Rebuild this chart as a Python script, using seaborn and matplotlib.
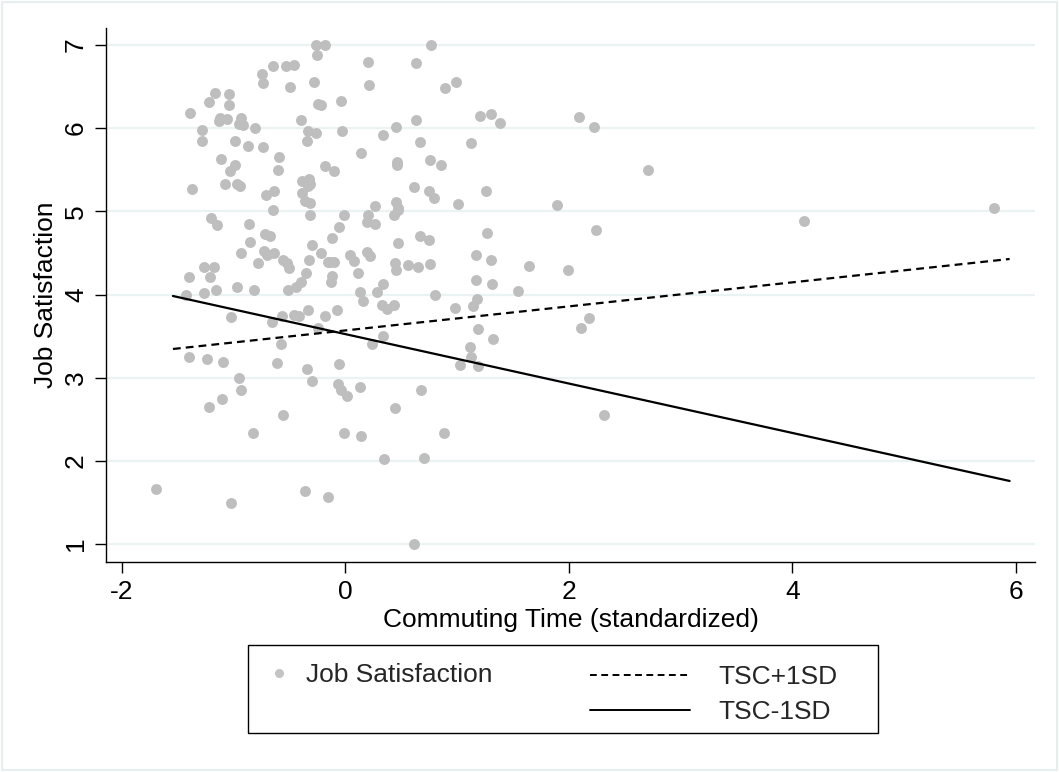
import matplotlib
matplotlib.use("Agg")
import matplotlib.pyplot as plt
from matplotlib.lines import Line2D
from matplotlib.patches import Rectangle
import seaborn as sns
import pandas as pd

# ---- data ----
commute = [
    -0.262, -0.182, -0.257, -0.647, -0.530, -0.465, -0.745, -0.740, -0.498, -0.284,
    -1.165, -1.044, -1.223, -1.044, -0.242, -0.217, -1.393, -1.127, -1.136, -1.062,
    -0.939, -0.957, -0.915, -0.811, -0.402, -0.334, -0.262, -0.343, -1.282, -1.282,
    -0.990, -0.868, -0.742, -1.115, -0.987, -1.035, -0.599, -0.606, -0.179, -1.377,
    -1.082, -0.969, -0.948, -0.391, -0.328, -0.322, -0.331, -0.707, -0.641, -0.391,
    -0.358, -0.322, -0.648,
    0.769, 0.203, 0.635, 0.208, 0.888, 0.990, -0.042, 1.208, 1.300, 1.384,
    0.629, -0.030, 0.334, 0.456, 0.668, 1.127, 0.143, -0.107, 0.459, 0.465,
    0.760, 0.852, 0.611, 0.749, 0.790, 1.261, 0.262, 0.456, 0.471, 1.008,
    -0.316, -1.199, -1.148, -0.865, -0.716, -0.671, -0.850, -0.301, -0.933, -0.731,
    -0.700, -0.638, -0.217, -0.784, -0.555, -0.521, -0.501, -0.328, -0.158, -1.267,
    -1.181, -1.398, -1.210, -0.352, -0.394, -0.441, -0.510, -1.267, -1.160, -0.972,
    -0.823, -1.425, -0.334, -1.022, -0.566, -0.465, -0.418, -0.656, -0.182, -0.575,
    -1.398, -1.237, -1.097, -0.617, -0.343, -0.248,
    -0.012, 0.199, 0.194, 0.262, 0.438, 0.474, -0.060, -0.123, 0.468, 0.671,
    0.751, 1.267, 0.036, 0.080, 0.191, 0.217, -0.137, -0.101, 0.447, 0.450,
    0.557, 0.653, 0.754, 1.169, 1.306, 0.116, -0.123, -0.134, 1.172, 1.315,
    0.334, 0.280, 0.131, 0.161, 0.802, 1.545, 1.178, 1.145, 0.981, 0.325,
    0.373, 0.438, -0.072, 1.190, 1.318, 0.340, 0.233, 1.112, 1.124, 1.187,
    1.029, -0.060,
    -0.954, -0.939, -1.106, -1.223, -0.561, -0.826, -0.301, -1.693, -1.022, -0.360,
    -0.158,
    -0.069, -0.036, 0.015, 0.131, 0.680, 0.441, -0.012, 0.143, 0.886, 0.346,
    0.700, 0.617,
    2.093, 2.224, 2.710, 1.896, 2.245, 4.106, 5.799, 1.640, 1.988, 2.182,
    2.105, 2.314,
]
job_sat = [
    7.00, 7.00, 6.88, 6.75, 6.75, 6.76, 6.65, 6.54, 6.50, 6.55,
    6.42, 6.41, 6.31, 6.28, 6.29, 6.28, 6.18, 6.12, 6.08, 6.11,
    6.12, 6.05, 6.04, 6.00, 6.10, 5.97, 5.94, 5.85, 5.98, 5.85,
    5.85, 5.78, 5.77, 5.63, 5.56, 5.49, 5.65, 5.50, 5.55, 5.27,
    5.33, 5.33, 5.30, 5.37, 5.39, 5.33, 5.30, 5.20, 5.24, 5.22,
    5.12, 5.10, 5.01,
    7.00, 6.79, 6.78, 6.52, 6.48, 6.56, 6.33, 6.15, 6.17, 6.06,
    6.10, 5.97, 5.92, 6.01, 5.83, 5.82, 5.70, 5.49, 5.59, 5.56,
    5.62, 5.56, 5.29, 5.24, 5.16, 5.24, 5.07, 5.11, 5.04, 5.09,
    4.96, 4.92, 4.84, 4.85, 4.73, 4.70, 4.63, 4.60, 4.50, 4.52,
    4.47, 4.50, 4.50, 4.38, 4.42, 4.38, 4.32, 4.41, 4.39, 4.33,
    4.33, 4.21, 4.21, 4.26, 4.15, 4.09, 4.05, 4.02, 4.05, 4.09,
    4.05, 3.99, 3.81, 3.73, 3.74, 3.75, 3.74, 3.67, 3.74, 3.41,
    3.25, 3.22, 3.19, 3.18, 3.11, 3.60,
    4.96, 4.96, 4.87, 4.85, 4.96, 5.02, 4.81, 4.68, 4.62, 4.70,
    4.65, 4.74, 4.48, 4.40, 4.51, 4.46, 4.39, 4.39, 4.38, 4.29,
    4.36, 4.33, 4.37, 4.48, 4.41, 4.26, 4.22, 4.15, 4.18, 4.13,
    4.13, 4.03, 4.03, 3.92, 4.00, 4.04, 3.95, 3.86, 3.84, 3.87,
    3.82, 3.87, 3.81, 3.58, 3.47, 3.50, 3.40, 3.37, 3.25, 3.14,
    3.15, 3.16,
    3.00, 2.85, 2.74, 2.65, 2.55, 2.33, 2.96, 1.66, 1.49, 1.64,
    1.57,
    2.92, 2.85, 2.78, 2.89, 2.85, 2.64, 2.34, 2.30, 2.34, 2.02,
    2.03, 1.00,
    6.14, 6.01, 5.50, 5.08, 4.77, 4.88, 5.04, 4.34, 4.29, 3.72,
    3.60, 2.55,
]

line_x = [-1.544, 5.943]
tsc_plus = [3.345, 4.427]   # TSC+1SD
tsc_minus = [3.982, 1.758]  # TSC-1SD

x_ticks = [-2, 0, 2, 4, 6]
y_ticks = [1, 2, 3, 4, 5, 6, 7]
x_title = "Commuting Time (standardized)"
y_title = "Job Satisfaction"
legend_labels = ["Job Satisfaction", "TSC+1SD", "TSC-1SD"]

# ---- styling ----
sns.set_theme(style="white")
plt.rcParams["font.family"] = ["Liberation Sans", "DejaVu Sans"]

W, H = 1059, 772
fig = plt.figure(figsize=(W / 100, H / 100), dpi=100)
fig.patch.set_facecolor("white")
ax = fig.add_axes([106 / W, 1 - 562 / H, (1035 - 106) / W, (562 - 28) / H])
ax.set_facecolor("white")

pts = pd.DataFrame({"commute": commute, "job_sat": job_sat})
sns.scatterplot(data=pts, x="commute", y="job_sat", ax=ax, color="#BEBEBE",
                s=62, linewidth=0, legend=False, zorder=3)

dash = (0, (3.5, 2.3))
sns.lineplot(x=line_x, y=tsc_plus, ax=ax, color="black", lw=1.6,
             linestyle=dash, zorder=4)
sns.lineplot(x=line_x, y=tsc_minus, ax=ax, color="black", lw=1.6, zorder=4)

ax.set_xlim(-2.143, 6.17)
ax.set_ylim(0.784, 7.204)
ax.set_xticks(x_ticks)
ax.set_xticklabels([f"{t}" for t in x_ticks])
ax.set_yticks(y_ticks)
ax.set_yticklabels([f"{t}" for t in y_ticks])

ax.yaxis.grid(True, color="#EAF2F3", lw=1.6)
ax.xaxis.grid(False)
ax.set_axisbelow(True)

for s in ["top", "right"]:
    ax.spines[s].set_visible(False)
for s in ["left", "bottom"]:
    ax.spines[s].set_visible(True)
    ax.spines[s].set_color("black")
    ax.spines[s].set_linewidth(1.0)

ax.tick_params(axis="both", direction="out", length=8, width=1.0,
               color="black", labelsize=19, labelcolor="black",
               left=True, bottom=True)
ax.tick_params(axis="y", pad=5)
ax.tick_params(axis="x", pad=5)
for lab in ax.get_yticklabels():
    lab.set_rotation(90)
    lab.set_va("center")

ax.set_xlabel(x_title, fontsize=19, labelpad=3, color="black")
ax.set_ylabel(y_title, fontsize=19, labelpad=4, color="black")

# outer frame (Stata-like)
fig.patches.append(Rectangle((2 / W, 2 / H), 1 - 4 / W, 1 - 4 / H,
                             transform=fig.transFigure, fill=False,
                             edgecolor="#E6EEF0", lw=1.5, zorder=0))

# legend box
fig.patches.append(Rectangle((248 / W, 1 - 733 / H), (878 - 248) / W, (733 - 645) / H,
                             transform=fig.transFigure, fill=False,
                             edgecolor="black", lw=1.0, zorder=5))

h_pt = Line2D([], [], marker="o", ls="none", color="#C4C4C4",
              markersize=6.5, markeredgewidth=0)
h_plus = Line2D([], [], color="black", lw=1.4, linestyle=(0, (3.5, 2.3)))
h_minus = Line2D([], [], color="black", lw=1.4)

fs = 19
fig.legend(handles=[h_pt], labels=[legend_labels[0]], loc="center left",
           bbox_to_anchor=(265.8 / W, 1 - 675 / H), frameon=False,
           fontsize=fs, handlelength=1.0, handletextpad=0.52,
           borderpad=0, borderaxespad=0)
fig.legend(handles=[h_plus, h_minus], labels=legend_labels[1:], loc="center left",
           bbox_to_anchor=(590 / W, 1 - 694.5 / H), frameon=False,
           fontsize=fs, handlelength=3.79, handletextpad=1.06,
           labelspacing=0.4, borderpad=0, borderaxespad=0)

fig.savefig("out.png", dpi=100)
